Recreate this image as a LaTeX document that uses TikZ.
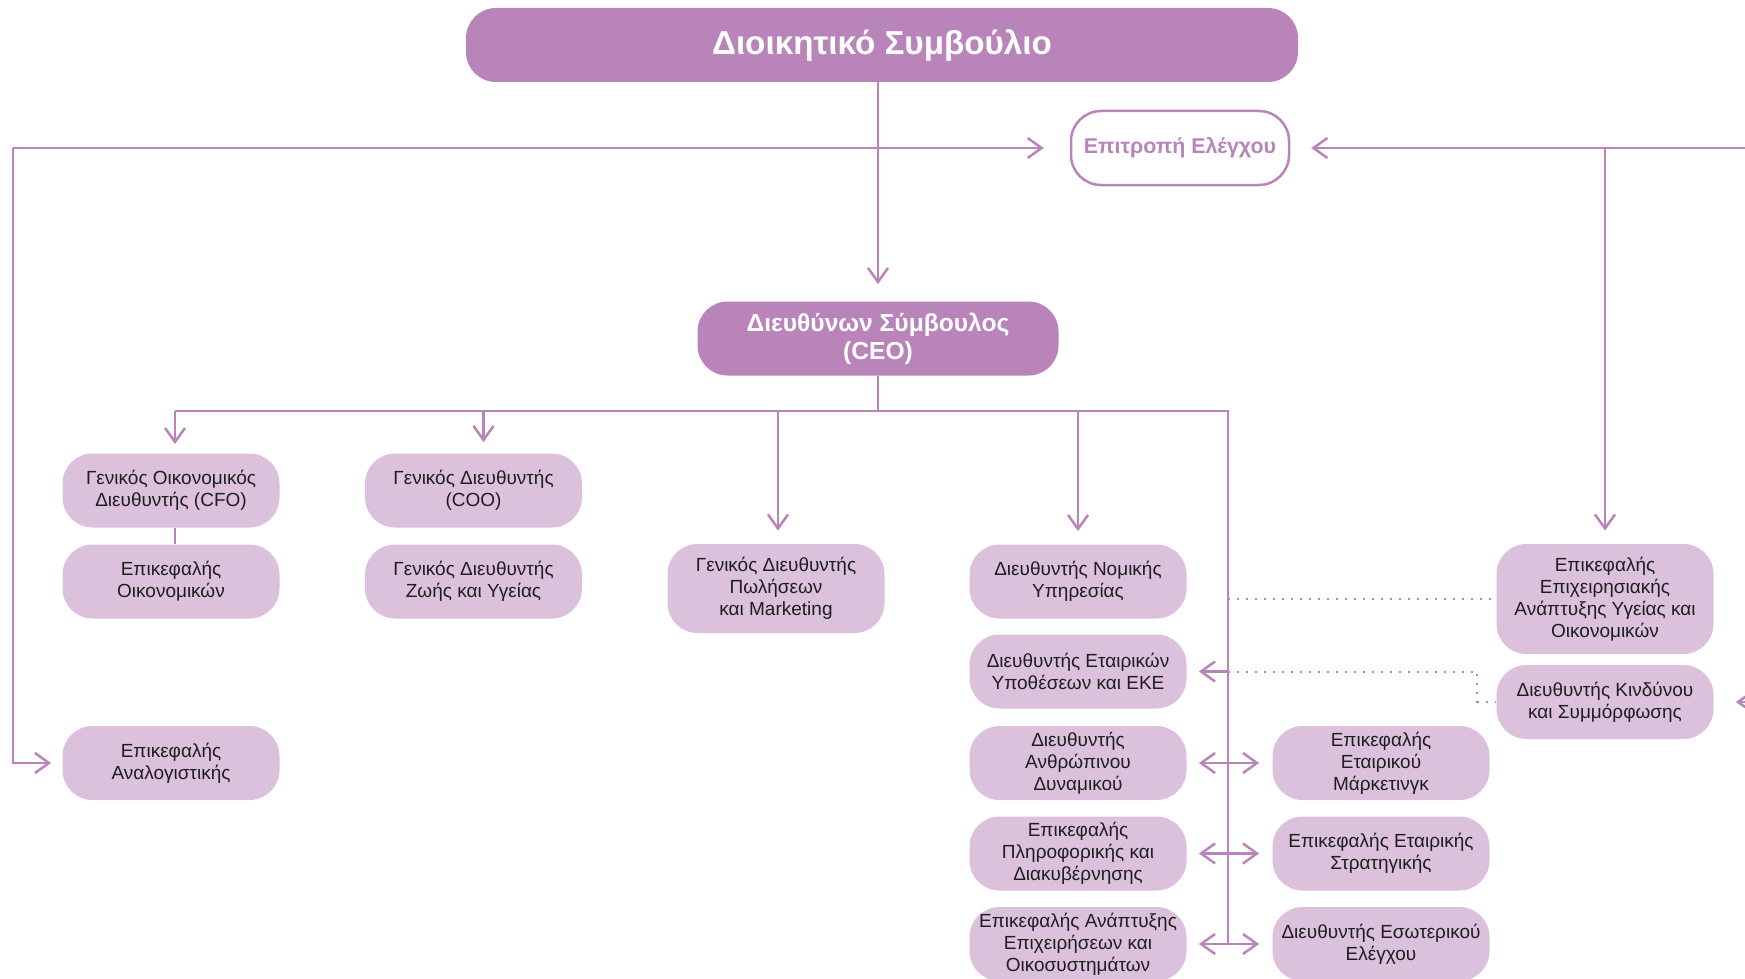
\documentclass[tikz,border=0pt]{standalone}
\usepackage{fontspec}
\setmainfont{Liberation Sans}
\usetikzlibrary{arrows.meta}
\definecolor{plum}{HTML}{B984B9}
\definecolor{lilac}{HTML}{DCC1DD}
\definecolor{ink}{HTML}{1E1E1E}
\tikzset{
	box/.style={fill=lilac,rounded corners=15pt,minimum width=108.5pt,minimum height=37pt,inner sep=1pt,align=center,text=ink,font=\fontsize{9.5}{11}\selectfont},
	head/.style={fill=plum,rounded corners=15pt,minimum height=37pt,align=center,text=white},
	link/.style={plum,line width=1.25pt},
	arr/.style={link,-{Straight Barb[length=7pt,width=10pt]}},
	twoway/.style={link,{Straight Barb[length=7pt,width=10pt]}-{Straight Barb[length=7pt,width=10pt]},shorten <=6pt,shorten >=6.5pt},
	dots/.style={plum,line width=1pt,dash pattern=on 1pt off 3.5pt}
}

\begin{document}
\begin{tikzpicture}[x=0.5pt,y=-0.5pt]
	\useasboundingbox (0,0) rectangle (1745,979);
	% board, committee, ceo
	\node[head,minimum width=416pt,font=\bfseries\fontsize{16.6}{19}\selectfont] (board) at (882,45) {Διοικητικό Συμβούλιο};
	\node[draw=plum,line width=1.25pt,fill=white,rounded corners=15pt,minimum width=109pt,minimum height=37pt,text=plum,font=\bfseries\fontsize{10.7}{13}\selectfont] (audit) at (1180,148) {Επιτροπή Ελέγχου};
	\node[head,minimum width=180.5pt,font=\bfseries\fontsize{12.3}{14}\selectfont] (ceo) at (878,338.5) {Διευθύνων Σύμβουλος\\(CEO)};
	% first level
	\node[box] (cfo) at (171,490.5) {Γενικός Οικονομικός\\Διευθυντής (CFO)};
	\node[box] (coo) at (473.5,490.5) {Γενικός Διευθυντής\\(COO)};
	\node[box] (fin) at (171,581.5) {Επικεφαλής\\Οικονομικών};
	\node[box] (life) at (473.5,581.5) {Γενικός Διευθυντής\\Ζωής και Υγείας};
	\node[box,minimum height=44.5pt] (sales) at (776,588.5) {Γενικός Διευθυντής\\Πωλήσεων\\και Marketing};
	\node[box] (legal) at (1078,581.5) {Διευθυντής Νομικής\\Υπηρεσίας};
	\node[box,minimum height=55pt] (bizdev) at (1605,599) {Επικεφαλής\\Επιχειρησιακής\\Ανάπτυξης Υγείας και\\Οικονομικών};
	\node[box] (corp) at (1078,671.5) {Διευθυντής Εταιρικών\\Υποθέσεων και ΕΚΕ};
	\node[box] (risk) at (1605,702) {Διευθυντής Κινδύνου\\και Συμμόρφωσης};
	\node[box] (act) at (171,763) {Επικεφαλής\\Αναλογιστικής};
	\node[box] (hr) at (1078,763) {Διευθυντής\\Ανθρώπινου\\Δυναμικού};
	\node[box] (mkt) at (1381,763) {Επικεφαλής\\Εταιρικού\\Μάρκετινγκ};
	\node[box] (it) at (1078,853.5) {Επικεφαλής\\Πληροφορικής και\\Διακυβέρνησης};
	\node[box] (strat) at (1381,853.5) {Επικεφαλής Εταιρικής\\Στρατηγικής};
	\node[box] (eco) at (1078,944) {Επικεφαλής Ανάπτυξης\\Επιχειρήσεων και\\Οικοσυστημάτων};
	\node[box] (intaudit) at (1381,944) {Διευθυντής Εσωτερικού\\Ελέγχου};
	% reporting to the committee
	\coordinate (lt) at (13,148);
	\coordinate (rt) at (1765,148);
	\draw[arr,shorten >=8.5pt] (ceo |- board.south) -- (ceo.north);
	\draw[arr,shorten >=13pt] (lt) -- (audit.west);
	\draw[arr,shorten >=5.5pt] (lt) |- (act.west);
	\draw[arr,shorten >=10.5pt] (rt) -- (audit.east);
	\draw[arr,shorten >=6.5pt] (bizdev |- rt) -- (bizdev.north);
	\draw[arr,shorten >=11pt] (rt |- risk.east) -- (risk.east);
	% ceo bus
	\coordinate (bus) at (0,411);
	\coordinate (spine) at (1228,411);
	\draw[link] (ceo.south) -- (ceo |- bus);
	\draw[link] ([xshift=2pt]cfo.north |- bus) -- (spine) -- (spine |- eco);
	\draw[arr,shorten >=4.5pt] ([xshift=2pt]cfo.north |- bus) -- ([xshift=2pt]cfo.north);
	\draw[arr,shorten >=5.5pt] ([xshift=5pt]coo.north |- bus) -- ([xshift=5pt]coo.north);
	\draw[arr,shorten >=6.5pt] ([xshift=1pt]sales.north |- bus) -- ([xshift=1pt]sales.north);
	\draw[arr,shorten >=6.5pt] (legal.north |- bus) -- (legal.north);
	\draw[link] ([xshift=2pt]cfo.south) -- ([xshift=2pt]fin.north);
	% spine
	\draw[arr,shorten >=6pt] (spine |- corp) -- (corp.east);
	\foreach \a/\b in {hr/mkt,it/strat,eco/intaudit}
		\draw[twoway] (\a.east) -- (\b.west);
	% dotted lines
	\draw[dots] (spine |- bizdev) -- (bizdev.west);
	\draw[dots] (spine |- corp) -- ([xshift=-9.5pt]risk.west |- corp) |- (risk.west);
\end{tikzpicture}
\end{document}
